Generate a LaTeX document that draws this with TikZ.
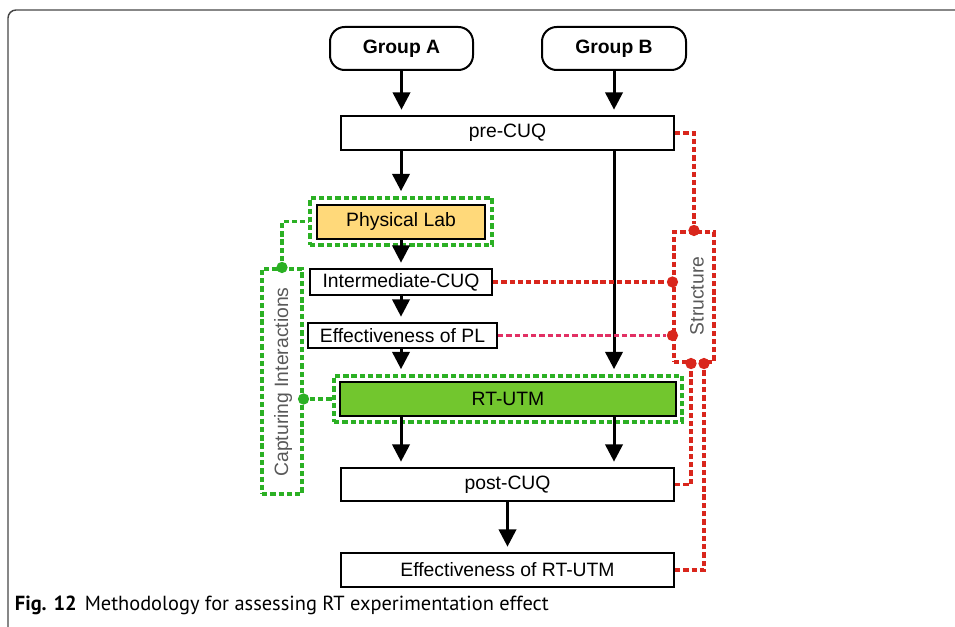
\documentclass[tikz,border=0pt]{standalone}
\usepackage{fontspec}
\setmainfont{Liberation Sans}
\newfontfamily\capfont{PT Sans}
\usetikzlibrary{arrows.meta,calc}
\definecolor{lineRed}{RGB}{217,38,28}
\definecolor{linePink}{RGB}{226,48,100}
\definecolor{lineGreen}{RGB}{43,176,36}
\definecolor{labFill}{RGB}{255,217,122}
\definecolor{rtFill}{RGB}{114,198,46}
\definecolor{frameGray}{RGB}{70,70,70}
\tikzset{
flowbox/.style={draw=black, line width=1.5pt, fill=white, inner sep=0pt, font=\fontsize{14.5}{17}\selectfont},
groupbox/.style={flowbox, rounded corners=11pt, font=\fontsize{14.5}{17}\selectfont\bfseries},
greenfrm/.style={draw=lineGreen, line width=2.3pt, dash pattern=on 4pt off 2.2pt, inner sep=0pt},
redfrm/.style={draw=lineRed, line width=2.3pt, dash pattern=on 4pt off 2.2pt, inner sep=0pt},
flowarrow/.style={line width=2.25pt, -{Triangle[width=13pt,length=13pt]}, shorten >=4pt},
reddot/.style={circle, fill=lineRed, inner sep=0pt, minimum size=8.5pt},
greendot/.style={circle, fill=lineGreen, inner sep=0pt, minimum size=8.5pt},
sidelabel/.style={rotate=90, text=black!65, font=\fontsize{14.5}{17}\selectfont}}
\tikzset{every picture/.style={line width=0.75pt}}

\begin{document}
\begin{tikzpicture}[x=0.75pt,y=0.75pt,yscale=-1,xscale=1]
\useasboundingbox (0,0) rectangle (955,627);

%Shape: Frame [id:dp4410]
\draw [draw=frameGray, line width=1.1pt, rounded corners=6pt] (8,627) -- (8,10) -- (955,10);

%Shape: Rounded Rect [id:dp1021]
\node [groupbox, minimum width=107.25pt, minimum height=32.25pt] (grpA) at (401.5,48.5) {Group A};
\node [groupbox, minimum width=108pt, minimum height=32.25pt] (grpB) at (614,48.5) {Group B};

%Shape: Rectangle [id:dp2034]
\node [flowbox, minimum width=249.75pt, minimum height=25.5pt] (pre) at (507.5,133) {pre-CUQ};
\node [greenfrm, minimum width=136.5pt, minimum height=35.25pt] (plFrm) at (401,221.5) {};
\node [flowbox, fill=labFill, minimum width=126pt, minimum height=25.5pt] (lab) at (401,222) {Physical Lab};
\node [flowbox, minimum width=136.5pt, minimum height=19.5pt] (inter) at (401,282) {Intermediate-CUQ};
\node [flowbox, minimum width=141.75pt, minimum height=18.75pt] (effPL) at (402.5,335.5) {Effectiveness of PL};
\node [greenfrm, minimum width=261pt, minimum height=34.5pt] (rtFrm) at (508,399) {};
\node [flowbox, fill=rtFill, minimum width=252pt, minimum height=25.5pt] (rt) at (508,399) {RT-UTM};
\node [flowbox, minimum width=249.75pt, minimum height=24.75pt] (post) at (507.5,484.5) {post-CUQ};
\node [flowbox, minimum width=249.75pt, minimum height=25.5pt] (effRT) at (507.5,570) {Effectiveness of RT-UTM};

%Shape: Side Frames [id:dp3307]
\node [redfrm, minimum width=30pt, minimum height=97.5pt] (struct) at (694,297) {};
\node [sidelabel] (structTxt) at (697,296) {Structure};
\node [greenfrm, minimum width=30pt, minimum height=168.75pt] (capt) at (282,381.5) {};
\node [sidelabel] (captTxt) at (283,382) {Capturing Interactions};

%Straight Lines [id:da5512]
\draw [flowarrow] (grpA.south) -- (grpA.south |- pre.north);
\draw [flowarrow] (grpB.south) -- (grpB.south |- pre.north);
\draw [flowarrow] (lab.north |- pre.south) -- (plFrm.north);
\draw [flowarrow] (lab.south) -- (inter.north);
\draw [flowarrow] (inter.south) -- (inter.south |- effPL.north);
\draw [flowarrow] (inter.south |- effPL.south) -- (inter.south |- rtFrm.north);
\draw [flowarrow] (grpB.south |- pre.south) -- (grpB.south |- rtFrm.north);
\draw [flowarrow] (inter.south |- rt.south) -- (inter.south |- post.north);
\draw [flowarrow] (grpB.south |- rt.south) -- (grpB.south |- post.north);
\draw [flowarrow] (post.south) -- (effRT.north);

%Shape: Dots [id:dp6618]
\node [reddot] (sTop) at (struct.north) {};
\node [reddot] (sInter) at (struct.west |- inter.east) {};
\node [reddot] (sEff) at (struct.west |- effPL.east) {};
\node [reddot] (sPost) at ($(struct.south)+(-3,0)$) {};
\node [reddot] (sRT) at ($(struct.south)+(10,0)$) {};
\node [greendot] (cTop) at (capt.north) {};
\node [greendot] (cRT) at (capt.east |- rt.west) {};

%Straight Lines [id:da7720]
\draw [redfrm] (pre.east) -| (sTop);
\draw [redfrm] (inter.east) -- (sInter);
\draw [redfrm, draw=linePink] (effPL.east) -- (sEff);
\draw [redfrm] (post.east) -| (sPost);
\draw [redfrm] (effRT.east) -| (sRT);
\draw [greenfrm] (cTop) |- (plFrm.west);
\draw [greenfrm] (cRT) -- (rtFrm.west);

%Text [id:dp8801]
\node [anchor=base west, font=\capfont\fontsize{15.3}{17}\selectfont] (caption) at (10,610) {\textbf{Fig. 12}\hspace{6pt}Methodology for assessing RT experimentation effect};
\end{tikzpicture}
\end{document}
